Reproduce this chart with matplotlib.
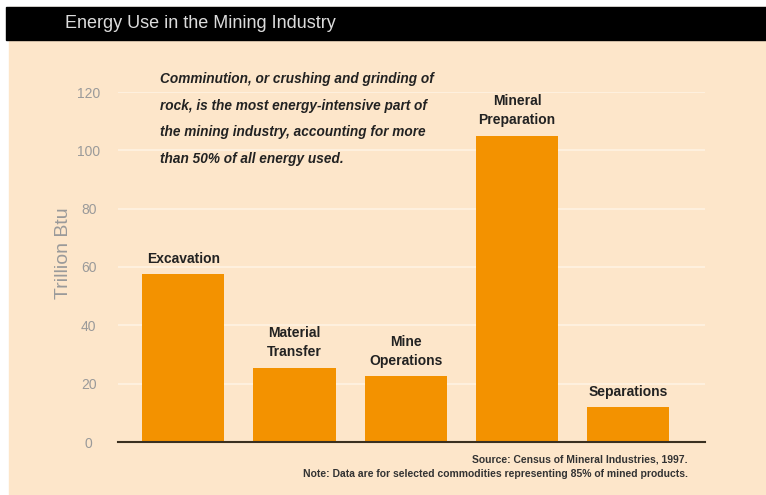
import matplotlib
matplotlib.use("Agg")
import matplotlib.pyplot as plt
from matplotlib.patches import Rectangle

# data
categories = ["Excavation", "Material\nTransfer", "Mine\nOperations",
              "Mineral\nPreparation", "Separations"]
values = [57.5, 25.5, 22.5, 105, 12]
yticks = [0, 20, 40, 60, 80, 100, 120]

title = "Energy Use in the Mining Industry"
note_text = ("Comminution, or crushing and grinding of\n"
             "rock, is the most energy-intensive part of\n"
             "the mining industry, accounting for more\n"
             "than 50% of all energy used.")
source_text = ("Source: Census of Mineral Industries, 1997.\n"
               "Note: Data are for selected commodities representing 85% of mined products.")

BG = "#fde6ca"
BAR = "#f39200"
sans = ["Liberation Sans", "DejaVu Sans"]

W, H = 766, 495
fig = plt.figure(figsize=(W / 100, H / 100), dpi=100)
fig.patch.set_facecolor("white")

# peach panel and black header band (pixel coords -> figure coords)
fig.patches.append(Rectangle((9 / W, 0), 1 - 9 / W, 1 - 7 / H,
                             transform=fig.transFigure, color=BG, zorder=0))
fig.patches.append(Rectangle((6 / W, 1 - 40 / H), 1 - 6 / W, 33 / H,
                             transform=fig.transFigure, color="black", zorder=1))
fig.text(65 / W, 1 - 24 / H, title, color="#dcdcdc", fontsize=13,
         family=sans, va="center", ha="left", zorder=3)

ax = fig.add_axes([118 / W, 53 / H, 587 / W, 350 / H])
ax.set_zorder(2)
ax.patch.set_alpha(0)

x = list(range(len(values)))
ax.bar(x, values, width=0.74, color=BAR, zorder=3)
ax.set_xlim(-0.586, 4.69)
ax.set_ylim(0, 120)

ax.set_yticks(yticks)
ax.set_yticklabels([str(t) for t in yticks], color="#9a9a9a", fontsize=10,
                   family=sans)
for lbl in ax.get_yticklabels():
    lbl.set_horizontalalignment("center")
ax.tick_params(axis="y", length=0, pad=21)
ax.set_xticks([])
ax.grid(axis="y", color="#fff3e3", linewidth=1.2, zorder=1)

for s in ["top", "right", "left"]:
    ax.spines[s].set_visible(False)
ax.spines["bottom"].set_color("#3a3020")
ax.spines["bottom"].set_linewidth(1.5)
ax.spines["bottom"].set_zorder(4)

fig.text(64 / W, 1 - 253 / H, "Trillion Btu", color="#9a9a9a", fontsize=14,
         family=sans, rotation=90, ha="center", va="center")

for xi, v, lab in zip(x, values, categories):
    ax.annotate(lab, (xi, v), xytext=(0, 6), textcoords="offset points",
                ha="center", va="bottom", fontsize=10, fontweight="bold",
                color="#222222", family=sans, linespacing=1.5)

fig.text(160 / W, 1 - 72 / H, note_text, ha="left", va="top", fontsize=9.8,
         fontweight="bold", style="italic", color="#222222",
         family=sans, linespacing=2.15)

fig.text(688 / W, 1 - 455 / H, source_text, ha="right", va="top", fontsize=7.5,
         fontweight="bold", color="#333333", family=sans,
         multialignment="right", linespacing=1.55)

fig.savefig("out.png", dpi=100, facecolor=fig.get_facecolor())
